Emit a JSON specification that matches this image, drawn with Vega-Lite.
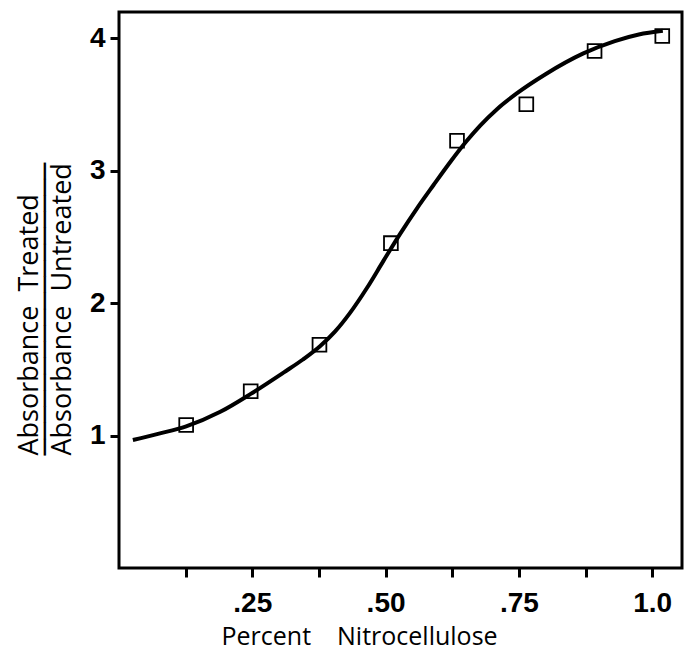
{
  "$schema": "https://vega.github.io/schema/vega-lite/v6.json",
  "width": 563,
  "height": 556,
  "autosize": {"type": "none"},
  "padding": {"left": 119, "top": 12, "right": 9, "bottom": 82},
  "background": "white",
  "config": {
    "view": {"stroke": "black", "strokeWidth": 3},
    "axis": {"grid": false, "domain": false}
  },
  "datasets": {
    "curve": [
      {"x": 0.026, "y": 0.967}, {"x": 0.075, "y": 1.015}, {"x": 0.126, "y": 1.07},
      {"x": 0.19, "y": 1.18}, {"x": 0.247, "y": 1.315}, {"x": 0.31, "y": 1.48},
      {"x": 0.345, "y": 1.575}, {"x": 0.377, "y": 1.675}, {"x": 0.405, "y": 1.785},
      {"x": 0.433, "y": 1.925}, {"x": 0.465, "y": 2.115},
      {"x": 0.496, "y": 2.32}, {"x": 0.527, "y": 2.522}, {"x": 0.559, "y": 2.717},
      {"x": 0.59, "y": 2.893}, {"x": 0.621, "y": 3.065}, {"x": 0.652, "y": 3.225},
      {"x": 0.677, "y": 3.34}, {"x": 0.71, "y": 3.47}, {"x": 0.746, "y": 3.585},
      {"x": 0.8, "y": 3.73}, {"x": 0.871, "y": 3.887}, {"x": 0.93, "y": 3.98},
      {"x": 0.975, "y": 4.03}, {"x": 1.02, "y": 4.058}
    ],
    "points": [
      {"x": 0.126, "y": 1.08}, {"x": 0.247, "y": 1.335}, {"x": 0.376, "y": 1.687},
      {"x": 0.51, "y": 2.454}, {"x": 0.634, "y": 3.227}, {"x": 0.764, "y": 3.503},
      {"x": 0.892, "y": 3.906}, {"x": 1.019, "y": 4.019}
    ]
  },
  "encoding": {
    "x": {
      "field": "x", "type": "quantitative",
      "scale": {"domain": [0, 1.056], "nice": false, "zero": false},
      "axis": {
        "values": [0.125, 0.25, 0.375, 0.5, 0.625, 0.75, 0.875, 1.0],
        "labelExpr": "datum.value == 0.25 ? '.25' : datum.value == 0.5 ? '.50' : datum.value == 0.75 ? '.75' : datum.value == 1 ? '1.0' : ''",
        "labelFont": "Liberation Sans", "labelFontWeight": "bold", "labelFontSize": 28,
        "labelColor": "black", "labelPadding": 12, "labelFlush": false, "labelOverlap": false,
        "tickColor": "black", "tickWidth": 3, "tickSize": 9,
        "title": "Percent\u00a0\u00a0\u00a0\u00a0Nitrocellulose",
        "titleFont": "Open Sans", "titleFontSize": 25, "titleFontWeight": "normal", "titleColor": "black",
        "titleAnchor": "start", "titleAlign": "left", "titleBaseline": "alphabetic",
        "titleX": 102, "titleY": 76
      }
    },
    "y": {
      "field": "y", "type": "quantitative",
      "scale": {"domain": [0, 4.2], "nice": false, "zero": false},
      "axis": {
        "values": [1, 2, 3, 4], "format": "d",
        "labelFont": "Liberation Sans", "labelFontWeight": "bold", "labelFontSize": 28,
        "labelColor": "black", "labelPadding": 5,
        "tickColor": "black", "tickWidth": 3, "tickSize": 9,
        "title": ["Absorbance\u00a0\u00a0Treated", "\u2500\u2500\u2500\u2500\u2500\u2500\u2500\u2500\u2500\u2500\u2500\u2500\u2500\u2500\u2500\u2500\u2500\u2500", "Absorbance\u00a0\u00a0Untreated"],
        "titleFont": "Open Sans, DejaVu Sans", "titleFontSize": 27, "titleFontWeight": "normal", "titleColor": "black",
        "titleLineHeight": 16.5, "titleAngle": -90,
        "titleAnchor": "start", "titleAlign": "left", "titleBaseline": "alphabetic",
        "titleX": -82, "titleY": 443
      }
    }
  },
  "layer": [
    {
      "data": {"name": "curve"},
      "mark": {"type": "line", "interpolate": "monotone", "color": "black", "strokeWidth": 4}
    },
    {
      "data": {"name": "points"},
      "mark": {"type": "point", "shape": "square", "filled": false, "color": "black", "size": 190, "strokeWidth": 1.8, "opacity": 1}
    }
  ]
}
